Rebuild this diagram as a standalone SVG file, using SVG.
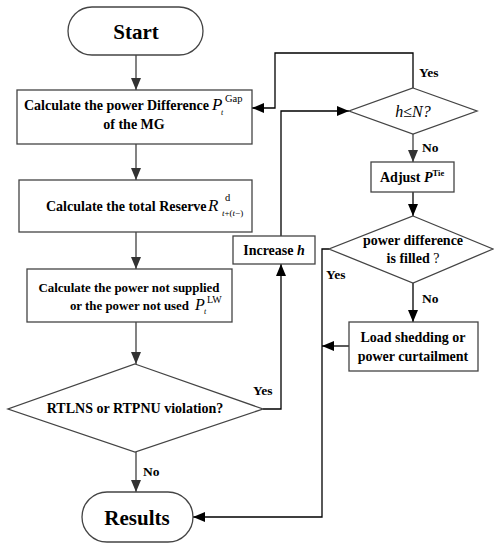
<svg xmlns="http://www.w3.org/2000/svg" width="494" height="543" viewBox="0 0 494 543">
<defs>
<marker id="ah" markerUnits="userSpaceOnUse" markerWidth="12" markerHeight="12" viewBox="0 0 12 12" refX="12" refY="6" orient="auto">
<path d="M0,1 L12,6 L0,11 Z" fill="#333"/>
</marker>
<marker id="ahk" markerUnits="userSpaceOnUse" markerWidth="12" markerHeight="12" viewBox="0 0 12 12" refX="12" refY="6" orient="auto">
<path d="M0,1 L12,6 L0,11 Z" fill="#000"/>
</marker>
</defs>
<style>
.sh{fill:#fff;stroke:#444;stroke-width:1.3}
.t{font-family:"Liberation Serif","Times New Roman",serif;font-weight:bold;font-size:14px;fill:#000}
.s{font-size:12.9px}
.big{font-size:21px}
.m{font-family:"Liberation Serif","Times New Roman",serif;font-style:italic;font-weight:normal;fill:#000}
.n{font-family:"Liberation Serif","Times New Roman",serif;font-weight:normal;fill:#000}
.c{fill:none;stroke:#404040;stroke-width:1.3}
.k{fill:none;stroke:#000;stroke-width:1.3}
.lab{font-family:"Liberation Serif","Times New Roman",serif;font-weight:bold;font-size:13.5px;fill:#000}
</style>
<rect width="494" height="543" fill="#fff"/>
<g id="connectors">
<path class="c" d="M136,55 V90" marker-end="url(#ah)"/>
<path class="c" d="M136,144 V180" marker-end="url(#ah)"/>
<path class="c" d="M136,232 V269" marker-end="url(#ah)"/>
<path class="c" d="M136,322 V364" marker-end="url(#ah)"/>
<path class="c" d="M136,452 V492" marker-end="url(#ah)"/>
<path class="k" d="M263,409 H281 V264" marker-end="url(#ahk)"/>
<path class="k" d="M281,236 V111 H349" marker-end="url(#ahk)"/>
<path class="k" d="M413,88 V53 H275 V108 H252" marker-end="url(#ahk)"/>
<path class="c" d="M413,134 V162" marker-end="url(#ah)"/>
<path class="k" d="M413,192 V216" marker-end="url(#ahk)"/>
<path class="k" d="M413,283 V322" marker-end="url(#ahk)"/>
<path class="k" d="M329,249 H322 V517 H193" marker-end="url(#ahk)"/>
<path class="k" d="M349,346 H322" marker-end="url(#ahk)"/>
<text class="lab" x="143" y="476">No</text>
<text class="lab" x="253" y="395">Yes</text>
<text class="lab" x="419" y="77">Yes</text>
<text class="lab" x="422" y="152">No</text>
<text class="lab" x="422" y="303">No</text>
<text class="lab" x="326" y="279">Yes</text>
</g>
<g id="start">
<rect class="sh" x="68" y="7" width="135" height="48" rx="24"/>
<text class="t big" x="136" y="39" text-anchor="middle">Start</text>
</g>
<g id="calc-gap">
<rect class="sh" x="17" y="90" width="235" height="54"/>
<text class="t" x="24" y="110">Calculate the power Difference</text>
<text class="m" x="212" y="110" font-size="17">P</text>
<text class="m" x="221" y="115" font-size="8">t</text>
<text class="n" x="225" y="102" font-size="10.5">Gap</text>
<text class="t" x="134" y="129" text-anchor="middle">of the MG</text>
</g>
<g id="calc-reserve">
<rect class="sh" x="19" y="180" width="233" height="52"/>
<text class="t" x="46" y="211">Calculate the total Reserve</text>
<text class="m" x="208" y="211" font-size="17">R</text>
<text class="n" x="225" y="201" font-size="10.5">d</text>
<text class="n" x="222" y="216" font-size="9"><tspan font-style="italic">t</tspan>+(<tspan font-style="italic">t</tspan>−)</text>
</g>
<g id="calc-lw">
<rect class="sh" x="27" y="269" width="205" height="53"/>
<text class="t s" x="129" y="292" text-anchor="middle">Calculate the power not supplied</text>
<text class="t s" x="189" y="310" text-anchor="end">or the power not used</text>
<text class="m" x="195" y="310" font-size="16">P</text>
<text class="m" x="204" y="314" font-size="8">t</text>
<text class="n" x="207" y="303" font-size="10">LW</text>
</g>
<g id="violation">
<polygon class="sh" points="135,364 263,409 135,452 8,409"/>
<text class="t" x="135" y="413" text-anchor="middle" font-size="13.8">RTLNS or RTPNU violation?</text>
</g>
<g id="results">
<rect class="sh" x="82" y="492" width="111" height="50" rx="25"/>
<text class="t big" x="137" y="525" text-anchor="middle">Results</text>
</g>
<g id="increase-h">
<rect class="sh" x="233" y="236" width="82" height="28"/>
<text class="t" x="274" y="255" text-anchor="middle">Increase <tspan font-style="italic">h</tspan></text>
</g>
<g id="h-le-n">
<polygon class="sh" points="413,88 477,111 413,134 349,111"/>
<text class="m" x="413" y="117" font-size="16" text-anchor="middle" fill="#222">h<tspan font-style="normal">≤</tspan>N?</text>
</g>
<g id="adjust">
<rect class="sh" x="371" y="162" width="83" height="30"/>
<text class="t" x="380" y="182" font-size="13.5">Adjust <tspan font-style="italic">P</tspan><tspan font-size="8.5" dy="-6">Tie</tspan></text>
</g>
<g id="filled">
<polygon class="sh" points="413,216 493,249 413,283 329,249"/>
<text class="t" x="413" y="245" text-anchor="middle">power difference</text>
<text class="t" x="413" y="263" text-anchor="middle">is filled <tspan font-weight="normal" fill="#000">?</tspan></text>
</g>
<g id="shedding">
<rect class="sh" x="349" y="322" width="129" height="49"/>
<text class="t" x="413" y="342" text-anchor="middle">Load shedding or</text>
<text class="t" x="413" y="361" text-anchor="middle">power curtailment</text>
</g>
</svg>
